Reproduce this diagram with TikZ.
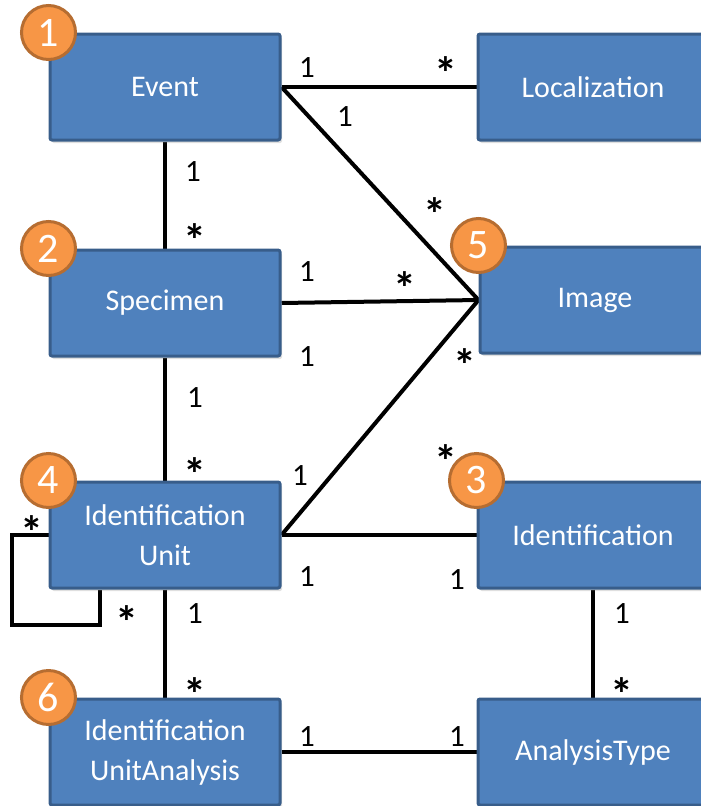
\documentclass[tikz,border=0pt]{standalone}
\usepackage{fontspec}
\setmainfont{Carlito}
\usetikzlibrary{backgrounds,shadows}
\definecolor{boxblue}{HTML}{4F81BD}
\definecolor{boxedge}{HTML}{385D8A}
\definecolor{badgeorange}{HTML}{F79646}
\definecolor{badgeedge}{HTML}{B66D31}
\newcommand{\starmark}{\raisebox{-26pt}{*}}
\tikzset{
  entity/.style={rectangle,rounded corners=2pt,fill=boxblue,draw=boxedge,line width=3pt,
    minimum width=230pt,minimum height=106pt,text=white,align=center,
    font=\fontsize{30}{40}\selectfont,
    drop shadow={opacity=0.25,shadow xshift=2pt,shadow yshift=-3pt}},
  badge/.style={circle,fill=badgeorange,draw=badgeedge,line width=3pt,minimum size=54pt,
    inner sep=0pt,text=white,font=\fontsize{42}{42}\selectfont},
  mult/.style={inner sep=0pt,font=\fontsize{31}{31}\selectfont},
  star/.style={inner sep=0pt,text height=6pt,text depth=6pt,
    font=\bfseries\fontsize{46}{46}\selectfont},
  link/.style={line width=4pt}
}

\begin{document}
\begin{tikzpicture}[x=1pt,y=-1pt]
    \clip (0,0) rectangle (701,806);

    % entities
    \node[entity] (event) at (165,87) {Event};
    \node[entity] (spec) at (165,303) {Specimen};
    \node[entity] (iu) at (165,535) {Identification\\Unit};
    \node[entity] (iua) at (165,752) {Identification\\UnitAnalysis};
    \node[entity] (loc) at (593,87) {Localization};
    \node[entity] (image) at (595,300) {Image};
    \node[entity] (ident) at (593,535) {Identification};
    \node[entity] (atype) at (593,752) {AnalysisType};

    % numbered badges
    \node[badge] (n1) at (event.north west) {1};
    \node[badge] (n2) at (spec.north west) {2};
    \node[badge] (n3) at (ident.north west) {3};
    \node[badge] (n4) at (iu.north west) {4};
    \node[badge] (n5) at (image.north west) {5};
    \node[badge] (n6) at (iua.north west) {6};

    \begin{scope}[on background layer]
        \draw[link] (event.east) -- (loc.west);
        \draw[link] (event.east) -- (image.west);
        \draw[link] (spec.east) -- (image.west);
        \draw[link] (iu.east) -- (image.west);
        \draw[link] (iu.east) -- (ident.west);
        \draw[link] (event.south) -- (spec.north);
        \draw[link] (spec.south) -- (iu.north);
        \draw[link] (iu.south) -- (iua.north);
        \draw[link] (iua.east) -- (atype.west);
        \draw[link] (ident.south) -- (atype.north);
        \coordinate (loopc) at (12,625);
        \draw[link] (iu.west) -| (loopc) -| ([xshift=-65pt]iu.south);
    \end{scope}

    % multiplicities
    \foreach \x/\y [count=\i] in {307/68, 345/117, 193/172, 307/272, 307/357,
        195/398, 300/476, 307/577, 457/580, 195/614, 622/614, 307/737, 457/737}
        \node[mult] (one\i) at (\x,\y) {1};
    \foreach \x/\y [count=\i] in {446/63, 435/204, 195/230, 405/278, 465/355,
        195/464, 446/451, 32/522, 127/612, 195/684, 622/684}
        \node[star] (many\i) at (\x,\y) {\starmark};
\end{tikzpicture}
\end{document}
